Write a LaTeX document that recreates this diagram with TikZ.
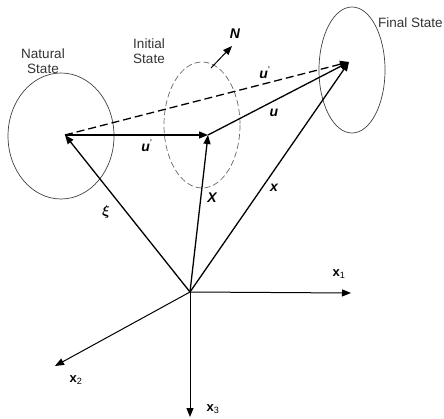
\documentclass[tikz,border=0pt]{standalone}
\usepackage{fontspec}
\usepackage{amsmath,bm}
\setmainfont{Liberation Sans}
\usetikzlibrary{arrows.meta}

\begin{document}
\begin{tikzpicture}[
  x=1pt, y=-1pt,
  every node/.style={font=\fontsize{13.5}{15.5}\selectfont},
  vec/.style={-{Triangle[length=9pt,width=7pt]}, line width=1.3pt},
  region/.style={line width=0.7pt, draw=black!75},
  sym/.style={font=\fontsize{14}{16}\selectfont\bfseries\itshape},
  axlbl/.style={font=\fontsize{13}{15}\selectfont\bfseries},
  statelbl/.style={align=center, text=black!80, inner sep=0pt},
]
\useasboundingbox (0,0) rectangle (444,419);

% points
\coordinate (O) at (190,292);
\coordinate (P) at (65,135);
\coordinate (Q) at (208,135);
\coordinate (R) at (349,62);
\coordinate (e1) at (351,293);
\coordinate (e2) at (55,366);
\coordinate (e3) at (190,417);
\coordinate (nbase) at (211,68);
\coordinate (ntip) at (232,46);

% regions
\draw[region] (61,136) ellipse [x radius=53, y radius=63];
\draw[region, dashed, dash pattern=on 6pt off 3pt, draw=black!60] (202,125) ellipse [x radius=38, y radius=63];
\draw[region] (352,70) ellipse [x radius=33, y radius=63];

% axes
\draw[vec, line width=1pt] (O) -- (e1);
\draw[vec, line width=1pt] (O) -- (e2);
\draw[vec, line width=1pt] (O) -- (e3);

% vectors
\draw[vec] (O) -- (P);
\draw[vec] (O) -- (Q);
\draw[vec] (O) -- (R);
\draw[vec] (P) -- (Q);
\draw[vec] (Q) -- (R);
\draw[vec, dashed, dash pattern=on 8pt off 4pt] (P) -- (R);
\draw[vec, line width=1pt] (nbase) -- (ntip);

% labels
\node[statelbl] (natural) at (43,61) {Natural\\State};
\node[statelbl] (initial) at (149,51) {Initial\\State};
\node[statelbl, anchor=west] (final) at (378,23) {Final State};
\node[sym] (nlbl) at (235,34) {N};
\node[sym] (xi) at (106,212) {$\bm{\xi}$};
\node[sym] (bigx) at (212,198) {X};
\node[sym] (smallx) at (274,188) {x};
\node[sym] (ua) at (147,146) {u\textsuperscript{\upshape\mdseries'}};
\node[sym] (ub) at (265,73) {u\textsuperscript{\upshape\mdseries'}};
\node[sym] (uc) at (274,113) {u};
\node[axlbl] (x1) at (339,274) {x\textsubscript{\mdseries 1}};
\node[axlbl] (x2) at (76,380) {x\textsubscript{\mdseries 2}};
\node[axlbl] (x3) at (213,409) {x\textsubscript{\mdseries 3}};
\end{tikzpicture}
\end{document}
